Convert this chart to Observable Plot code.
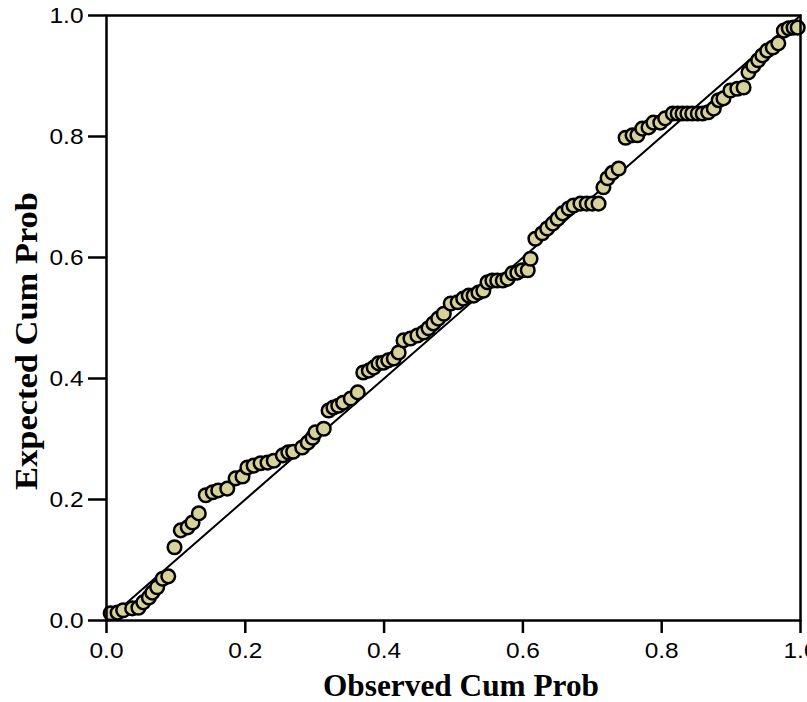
<!DOCTYPE html>
<html>
<head>
<meta charset="utf-8">
<script src="https://cdn.jsdelivr.net/npm/d3@7"></script>
<script src="https://cdn.jsdelivr.net/npm/@observablehq/plot@0.6"></script>
<style>
  html, body { margin: 0; padding: 0; background: white; }
  #chart svg { display: block; }
</style>
</head>
<body>
<div id="chart"></div>
<script>
// Observed cumulative probability (x) and expected cumulative probability (y)
const observed = [
  0.006, 0.016, 0.024, 0.037, 0.046, 0.053, 0.061, 0.066, 0.073, 0.081,
  0.089, 0.098, 0.107, 0.117, 0.124, 0.133, 0.143, 0.153, 0.161, 0.174,
  0.186, 0.196, 0.203, 0.212, 0.222, 0.232, 0.241, 0.254, 0.262, 0.269,
  0.282, 0.290, 0.297, 0.301, 0.313, 0.320, 0.327, 0.334, 0.341, 0.352,
  0.362, 0.370, 0.378, 0.385, 0.392, 0.399, 0.406, 0.414, 0.421, 0.428,
  0.438, 0.448, 0.457, 0.464, 0.471, 0.478, 0.486, 0.496, 0.506, 0.514,
  0.522, 0.529, 0.536, 0.543, 0.549, 0.556, 0.563, 0.571, 0.578, 0.585,
  0.592, 0.599, 0.607, 0.611, 0.618, 0.628, 0.635, 0.643, 0.650, 0.657,
  0.666, 0.673, 0.683, 0.692, 0.700, 0.709, 0.716, 0.722, 0.729, 0.738,
  0.748, 0.758, 0.765, 0.772, 0.781, 0.788, 0.798, 0.805, 0.816, 0.823,
  0.830, 0.837, 0.844, 0.852, 0.859, 0.867, 0.875, 0.882, 0.889, 0.899,
  0.909, 0.918, 0.925, 0.932, 0.939, 0.945, 0.952, 0.960, 0.968, 0.976,
  0.983, 0.990, 0.996
];
const expected = [
  0.012, 0.013, 0.017, 0.020, 0.021, 0.030, 0.038, 0.046, 0.055, 0.069,
  0.073, 0.121, 0.149, 0.154, 0.162, 0.177, 0.207, 0.212, 0.215, 0.218,
  0.235, 0.238, 0.253, 0.256, 0.260, 0.261, 0.264, 0.273, 0.278, 0.279,
  0.286, 0.294, 0.302, 0.311, 0.317, 0.347, 0.352, 0.355, 0.360, 0.367,
  0.377, 0.410, 0.413, 0.418, 0.425, 0.426, 0.430, 0.433, 0.443, 0.463,
  0.466, 0.471, 0.476, 0.483, 0.491, 0.499, 0.507, 0.524, 0.526, 0.532,
  0.537, 0.537, 0.542, 0.545, 0.559, 0.562, 0.562, 0.562, 0.565, 0.574,
  0.575, 0.579, 0.579, 0.598, 0.631, 0.640, 0.648, 0.656, 0.664, 0.673,
  0.681, 0.686, 0.689, 0.689, 0.689, 0.689, 0.716, 0.731, 0.740, 0.747,
  0.798, 0.802, 0.802, 0.813, 0.815, 0.823, 0.823, 0.830, 0.838, 0.838,
  0.838, 0.838, 0.838, 0.838, 0.838, 0.840, 0.846, 0.860, 0.863, 0.876,
  0.879, 0.881, 0.906, 0.917, 0.926, 0.934, 0.942, 0.947, 0.954, 0.975,
  0.979, 0.980, 0.980
];
const tickValues = [0, 0.2, 0.4, 0.6, 0.8, 1.0];
const referenceLine = [0, 1];
const xTitle = "Observed Cum Prob";
const yTitle = "Expected Cum Prob";

const points = observed.map((x, i) => ({x, y: expected[i]}));

const chart = Plot.plot({
  width: 807,
  height: 702,
  marginLeft: 106,
  marginRight: 7,
  marginTop: 15,
  marginBottom: 82,
  style: {
    fontFamily: "'Liberation Sans', Arial, sans-serif",
    fontSize: "22px",
    background: "white",
    color: "black",
    overflow: "hidden"
  },
  x: {domain: [0, 1], label: null},
  y: {domain: [0, 1], label: null},
  marks: [
    Plot.axisX({ticks: tickValues, tickFormat: d3.format(".1f"), tickSize: 13, tickPadding: 9, strokeWidth: 2.5, label: null, fontSize: 22}),
    Plot.axisY({ticks: tickValues, tickFormat: d3.format(".1f"), tickSize: 18, tickPadding: 5, strokeWidth: 2.5, label: null, fontSize: 22}),
    Plot.line(referenceLine, {x: d => d, y: d => d, stroke: "black", strokeWidth: 2}),
    Plot.dot(points, {x: "x", y: "y", r: 6.8, fill: "#d7d19c", stroke: "black", strokeWidth: 2.5}),
    Plot.frame({stroke: "black", strokeWidth: 2.5})
  ]
});

const svg = d3.select(chart);
// widen tick labels slightly to match the reference's stretched glyphs
svg.selectAll("text")
  .filter(function() {
    const g = this.parentNode;
    const a = g && g.getAttribute && g.getAttribute("aria-label");
    return a && a.includes("tick label");
  })
  .attr("textLength", 34)
  .attr("lengthAdjust", "spacingAndGlyphs");

svg.append("text")
  .attr("x", 461)
  .attr("y", 696)
  .attr("text-anchor", "middle")
  .attr("textLength", 276)
  .attr("lengthAdjust", "spacingAndGlyphs")
  .style("font-family", "'Liberation Serif', 'Times New Roman', serif")
  .style("font-weight", "bold")
  .style("font-size", "31px")
  .attr("fill", "black")
  .text(xTitle);
svg.append("text")
  .attr("transform", "translate(37,341) rotate(-90)")
  .attr("text-anchor", "middle")
  .attr("textLength", 298)
  .attr("lengthAdjust", "spacingAndGlyphs")
  .style("font-family", "'Liberation Serif', 'Times New Roman', serif")
  .style("font-weight", "bold")
  .style("font-size", "31px")
  .attr("fill", "black")
  .text(yTitle);

document.getElementById("chart").appendChild(chart);
</script>
</body>
</html>
